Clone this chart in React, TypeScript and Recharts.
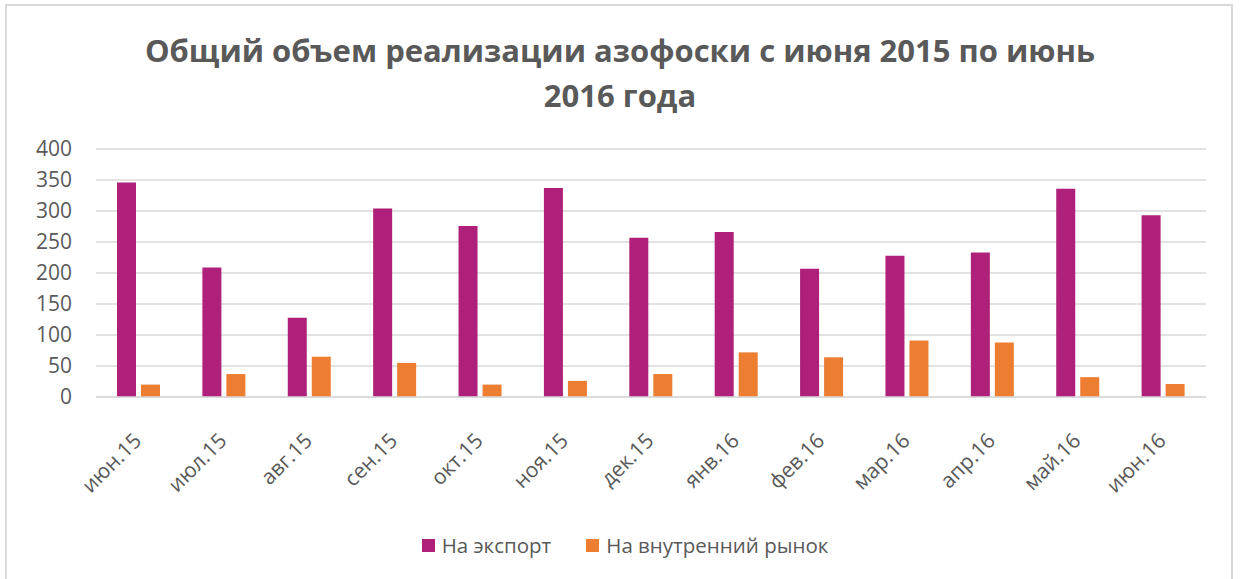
import React from 'react';
import { BarChart, Bar, XAxis, YAxis, CartesianGrid } from 'recharts';

const TITLE_LINES = ['Общий объем реализации азофоски с июня 2015 по июнь', '2016 года'];
const CATEGORIES = ['июн.15', 'июл.15', 'авг.15', 'сен.15', 'окт.15', 'ноя.15', 'дек.15', 'янв.16', 'фев.16', 'мар.16', 'апр.16', 'май.16', 'июн.16'];
const EXPORT_VALUES = [346, 209, 128, 304, 276, 337, 257, 266, 207, 228, 233, 336, 293];
const DOMESTIC_VALUES = [20, 37, 65, 55, 20, 26, 37, 72, 64, 91, 88, 32, 21];
const Y_TICKS = [0, 50, 100, 150, 200, 250, 300, 350, 400];
const SERIES = [
  { key: 'export', name: 'На экспорт', color: '#AE2079' },
  { key: 'domestic', name: 'На внутренний рынок', color: '#ED7D31' },
];

const data = CATEGORIES.map((month, i) => ({
  month,
  export: EXPORT_VALUES[i],
  domestic: DOMESTIC_VALUES[i],
}));

const FONT = '"Open Sans", sans-serif';
const TEXT_COLOR = '#595959';

const XTick = (props: any) => {
  const { x, y, payload } = props;
  return (
    <g transform={`translate(${x + 4},${y + 37})`}>
      <text
        x={0}
        y={0}
        textAnchor="end"
        transform="rotate(-45)"
        fill={TEXT_COLOR}
        fontSize={21}
        fontFamily={FONT}
      >
        {payload.value}
      </text>
    </g>
  );
};

export default function App() {
  return (
    <div
      style={{
        position: 'absolute',
        left: 0,
        top: 0,
        width: 1240,
        height: 579,
        overflow: 'hidden',
        background: '#fff',
      }}
    >
      <div
        style={{
          position: 'absolute',
          left: 5,
          top: 4,
          width: 1228,
          height: 640,
          border: '2px solid #d9d9d9',
          boxSizing: 'border-box',
        }}
      />
      <div
        style={{
          position: 'absolute',
          left: 0,
          top: 28,
          width: 1240,
          textAlign: 'center',
          fontFamily: FONT,
          fontWeight: 700,
          fontSize: 31,
          lineHeight: '45px',
          color: TEXT_COLOR,
        }}
      >
        {TITLE_LINES.map((l) => (
          <div key={l}>{l}</div>
        ))}
      </div>
      <div style={{ position: 'absolute', left: 0, top: 0 }}>
        <BarChart
          width={1240}
          height={579}
          data={data}
          margin={{ top: 149, right: 34, left: 0, bottom: 0 }}
          barSize={19}
          barGap={5}
        >
          <CartesianGrid vertical={false} stroke="#d9d9d9" strokeWidth={1.3} />
          <XAxis
            dataKey="month"
            interval={0}
            tickLine={false}
            axisLine={{ stroke: '#d9d9d9', strokeWidth: 1.3 }}
            height={182}
            tick={<XTick />}
          />
          <YAxis
            width={96}
            domain={[0, 400]}
            ticks={Y_TICKS}
            axisLine={false}
            tickLine={false}
            tickMargin={18}
            tick={{ fill: TEXT_COLOR, fontSize: 21, fontFamily: FONT }}
          />
          {SERIES.map((s) => (
            <Bar
              key={s.key}
              dataKey={s.key}
              name={s.name}
              fill={s.color}
              isAnimationActive={false}
            />
          ))}
        </BarChart>
      </div>
      <div
        style={{
          position: 'absolute',
          left: 5,
          top: 531,
          width: 1240,
          display: 'flex',
          justifyContent: 'center',
          gap: 35,
          fontFamily: FONT,
          fontSize: 20.5,
          color: TEXT_COLOR,
        }}
      >
        {SERIES.map((s) => (
          <div key={s.key} style={{ display: 'flex', alignItems: 'center', gap: 7 }}>
            <div style={{ width: 13, height: 13, background: s.color }} />
            <span style={{ lineHeight: '28px' }}>{s.name}</span>
          </div>
        ))}
      </div>
    </div>
  );
}
